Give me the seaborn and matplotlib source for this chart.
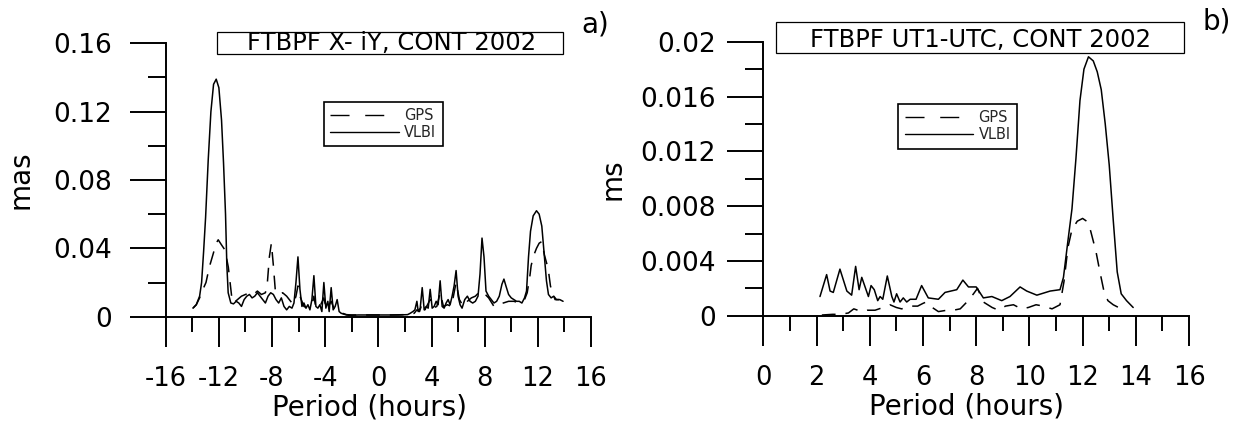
import matplotlib
matplotlib.use("Agg")
import matplotlib.pyplot as plt
import numpy as np
import pandas as pd
import seaborn as sns
from matplotlib.lines import Line2D
from matplotlib.patches import Rectangle
from matplotlib.ticker import FixedLocator, FixedFormatter

# ---------------------------------------------------------------- data
# Panel a: polar motion (X - iY) amplitude spectrum, mas
xy_vlbi_period = [-13.95, -13.7, -13.45, -13.3, -13.15, -13.0, -12.8, -12.6, -12.4, -12.2,
                  -12.0, -11.8, -11.65, -11.5, -11.4, -11.3, -11.1, -10.9, -10.7, -10.5,
                  -10.3, -10.1, -9.9, -9.7, -9.5, -9.3, -9.1, -8.9, -8.7, -8.5,
                  -8.3, -8.1, -7.9, -7.7, -7.5, -7.3, -7.1, -6.9, -6.7, -6.5,
                  -6.35, -6.2, -6.05, -5.9, -5.75, -5.6, -5.45, -5.3, -5.15, -5.0,
                  -4.85, -4.7, -4.55, -4.4, -4.25, -4.1, -3.95, -3.8, -3.7, -3.55,
                  -3.4, -3.25, -3.1, -2.95, -2.8, -2.6, -2.4, -2.2, -1.5, -0.5,
                  0.5, 1.5, 2.2, 2.4, 2.6, 2.75, 2.9, 3.0, 3.15, 3.3,
                  3.45, 3.6, 3.75, 3.9, 4.05, 4.2, 4.35, 4.5, 4.65, 4.8,
                  4.95, 5.1, 5.25, 5.4, 5.55, 5.7, 5.85, 6.0, 6.15, 6.3,
                  6.5, 6.7, 6.9, 7.1, 7.3, 7.5, 7.65, 7.8, 7.95, 8.1,
                  8.3, 8.5, 8.7, 8.9, 9.1, 9.3, 9.45, 9.6, 9.8, 10.0,
                  10.2, 10.4, 10.6, 10.8, 11.0, 11.15, 11.3, 11.45, 11.65, 11.9,
                  12.1, 12.3, 12.5, 12.65, 12.8, 13.0, 13.2, 13.4, 13.65, 13.9]
xy_vlbi_amp = [0.005, 0.007, 0.012, 0.020, 0.038, 0.058, 0.092, 0.120, 0.136, 0.139,
               0.134, 0.115, 0.090, 0.060, 0.030, 0.014, 0.008, 0.0075, 0.009, 0.008,
               0.006, 0.010, 0.012, 0.013, 0.011, 0.012, 0.014, 0.012, 0.010, 0.008,
               0.012, 0.014, 0.013, 0.010, 0.008, 0.011, 0.006, 0.004, 0.006, 0.005,
               0.008, 0.020, 0.035, 0.016, 0.006, 0.008, 0.005, 0.007, 0.004, 0.010,
               0.024, 0.006, 0.005, 0.007, 0.003, 0.020, 0.005, 0.009, 0.003, 0.017,
               0.004, 0.006, 0.010, 0.003, 0.002, 0.0015, 0.001, 0.0008, 0.001, 0.001,
               0.001, 0.001, 0.0012, 0.002, 0.003, 0.004, 0.009, 0.003, 0.005, 0.017,
               0.004, 0.006, 0.005, 0.016, 0.005, 0.006, 0.009, 0.007, 0.021, 0.006,
               0.005, 0.008, 0.010, 0.007, 0.012, 0.018, 0.027, 0.012, 0.007, 0.005,
               0.010, 0.012, 0.009, 0.008, 0.009, 0.012, 0.025, 0.046, 0.035, 0.015,
               0.012, 0.010, 0.008, 0.009, 0.012, 0.019, 0.022, 0.018, 0.013, 0.011,
               0.010, 0.009, 0.009, 0.008, 0.011, 0.015, 0.035, 0.050, 0.059, 0.062,
               0.060, 0.053, 0.035, 0.021, 0.013, 0.011, 0.012, 0.010, 0.010, 0.009]

xy_gps_period = [-13.95, -13.7, -13.45, -13.2, -12.97, -12.72, -12.42, -12.2, -12.05, -11.8,
                 -11.54, -11.29, -11.17, -11.04, -10.9, -10.6, -10.3, -10.0, -9.7, -9.4,
                 -9.1, -8.8, -8.5, -8.35, -8.2, -8.05, -7.9, -7.75, -7.5, -7.2,
                 -6.9, -6.6, -6.4, -6.2, -6.05, -5.9, -5.6, -5.3, -5.0, -4.85,
                 -4.7, -4.4, -4.1, -3.9, -3.55, -3.3, -3.0, -2.7, -2.4, -2.0,
                 -1.0, 0.0, 1.0, 2.0, 2.4, 2.7, 2.9, 3.1, 3.3, 3.5,
                 3.9, 4.1, 4.4, 4.65, 4.9, 5.2, 5.5, 5.85, 6.1, 6.4,
                 6.7, 7.0, 7.3, 7.55, 7.8, 8.05, 8.3, 8.7, 9.0, 9.4,
                 9.8, 10.2, 10.6, 11.0, 11.2, 11.39, 11.5, 11.7, 11.9, 12.1,
                 12.3, 12.5, 12.78, 12.95, 13.1, 13.3, 13.6]
xy_gps_amp = [0.005, 0.007, 0.011, 0.016, 0.020, 0.029, 0.037, 0.043, 0.045, 0.042,
              0.039, 0.029, 0.021, 0.012, 0.008, 0.010, 0.012, 0.013, 0.014, 0.013,
              0.015, 0.013, 0.014, 0.020, 0.035, 0.043, 0.030, 0.015, 0.013, 0.014,
              0.012, 0.009, 0.007, 0.012, 0.018, 0.012, 0.006, 0.005, 0.007, 0.012,
              0.005, 0.006, 0.011, 0.004, 0.009, 0.004, 0.003, 0.002, 0.0012, 0.001,
              0.001, 0.001, 0.001, 0.0012, 0.0015, 0.002, 0.004, 0.003, 0.008, 0.004,
              0.010, 0.005, 0.006, 0.014, 0.006, 0.007, 0.006, 0.020, 0.010, 0.006,
              0.009, 0.011, 0.012, 0.014, 0.015, 0.013, 0.011, 0.006, 0.007, 0.008,
              0.009, 0.009, 0.008, 0.010, 0.014, 0.023, 0.030, 0.036, 0.040, 0.043,
              0.044, 0.036, 0.028, 0.018, 0.014, 0.010, 0.010]

# Panel b: UT1-UTC amplitude spectrum, ms
ut_vlbi_period = [2.13, 2.38, 2.51, 2.63, 2.88, 3.14, 3.32, 3.47, 3.6, 3.7,
                  3.95, 4.05, 4.17, 4.3, 4.39, 4.49, 4.66, 4.83, 4.91, 5.01,
                  5.14, 5.26, 5.39, 5.52, 5.74, 5.95, 6.2, 6.58, 6.83, 7.27,
                  7.5, 7.71, 8.0, 8.27, 8.59, 8.96, 9.27, 9.65, 9.9, 10.28,
                  10.78, 11.15, 11.28, 11.45, 11.6, 11.75, 11.9, 12.05, 12.22, 12.4,
                  12.55, 12.7, 12.85, 13.0, 13.15, 13.3, 13.45, 13.65, 13.9]
ut_vlbi_amp = [0.0014, 0.0030, 0.0018, 0.0017, 0.0034, 0.0018, 0.0015, 0.0036, 0.0019, 0.0028,
               0.0014, 0.0022, 0.0019, 0.0011, 0.0014, 0.0012, 0.0029, 0.0014, 0.0010, 0.0016,
               0.0010, 0.0013, 0.0010, 0.0012, 0.0012, 0.0022, 0.0013, 0.0012, 0.0017, 0.0019,
               0.0026, 0.0021, 0.0021, 0.0013, 0.0014, 0.0011, 0.0014, 0.0021, 0.0018, 0.0015,
               0.0018, 0.0019, 0.0028, 0.0055, 0.0078, 0.0115, 0.0157, 0.0180, 0.0189, 0.0186,
               0.0178, 0.0165, 0.0140, 0.0110, 0.0070, 0.0032, 0.0016, 0.0011, 0.0006]

ut_gps_period = [2.2, 2.6, 2.9, 3.2, 3.4, 3.55, 3.7, 3.9, 4.2, 4.5,
                 4.76, 5.0, 5.2, 5.5, 5.8, 6.0, 6.12, 6.35, 6.58, 6.9,
                 7.14, 7.4, 7.65, 7.9, 8.05, 8.27, 8.6, 8.84, 9.1, 9.4,
                 9.7, 9.96, 10.25, 10.53, 10.85, 11.15, 11.3, 11.45, 11.6, 11.8,
                 12.0, 12.15, 12.3, 12.5, 12.65, 12.8, 12.95, 13.15, 13.35, 13.5]
ut_gps_amp = [0.00005, 0.0001, 0.0001, 0.0002, 0.0005, 0.0004, 0.0003, 0.0004, 0.0004, 0.0006,
              0.0008, 0.0006, 0.0005, 0.0007, 0.0007, 0.0009, 0.0010, 0.0006, 0.0003, 0.0004,
              0.0004, 0.0005, 0.0010, 0.0016, 0.0020, 0.0010, 0.0006, 0.0004, 0.0007, 0.0008,
              0.0005, 0.0006, 0.0008, 0.0007, 0.0005, 0.0008, 0.0025, 0.0050, 0.0063, 0.0069,
              0.0071, 0.0069, 0.0062, 0.0047, 0.0032, 0.0018, 0.0011, 0.0008, 0.0006, 0.0005]

# axis ticks and labels
xy_xticks = [-16, -12, -8, -4, 0, 4, 8, 12, 16]
xy_xtick_labels = ["-16", "-12", "-8", "-4", "0", "4", "8", "12", "16"]
xy_xminor = [-14, -10, -6, -2, 2, 6, 10, 14]
xy_yticks = [0, 0.04, 0.08, 0.12, 0.16]
xy_ytick_labels = ["0", "0.04", "0.08", "0.12", "0.16"]
xy_yminor = [0.02, 0.06, 0.10, 0.14]

ut_xticks = [0, 2, 4, 6, 8, 10, 12, 14, 16]
ut_xtick_labels = ["0", "2", "4", "6", "8", "10", "12", "14", "16"]
ut_xminor = [1, 3, 5, 7, 9, 11, 13, 15]
ut_yticks = [0, 0.004, 0.008, 0.012, 0.016, 0.02]
ut_ytick_labels = ["0", "0.004", "0.008", "0.012", "0.016", "0.02"]
ut_yminor = [0.002, 0.006, 0.010, 0.014, 0.018]

series_names = ["GPS", "VLBI"]

# ---------------------------------------------------------------- style
sns.set_theme(style="white")
plt.rcParams["font.family"] = ["DejaVu Sans"]
plt.rcParams["axes.unicode_minus"] = False

fig = plt.figure(figsize=(12.46, 4.24), dpi=100)
fig.patch.set_facecolor("white")
ax_a = fig.add_axes([0.1330, 0.2531, 0.3413, 0.6448])
ax_b = fig.add_axes([0.6126, 0.2554, 0.3417, 0.6462])

DATA_LW = 1.1
GPS_DASH = (9.0, 6.5)


def long_form(gps_x, gps_y, vlbi_x, vlbi_y):
    return pd.concat([
        pd.DataFrame({"period": gps_x, "amp": gps_y, "series": "GPS"}),
        pd.DataFrame({"period": vlbi_x, "amp": vlbi_y, "series": "VLBI"}),
    ], ignore_index=True)


def style_axes(ax, xlim, ylim, xt, xtl, xmin, yt, ytl, ymin, ylabel, ylab_x, ytick_pad):
    ax.set_xlim(*xlim)
    ax.set_ylim(*ylim)
    ax.set_facecolor("white")
    for s in ("top", "right"):
        ax.spines[s].set_visible(False)
    for s in ("left", "bottom"):
        ax.spines[s].set_color("black")
        ax.spines[s].set_linewidth(1.4)
    ax.xaxis.set_major_locator(FixedLocator(xt))
    ax.xaxis.set_major_formatter(FixedFormatter(xtl))
    ax.xaxis.set_minor_locator(FixedLocator(xmin))
    ax.yaxis.set_major_locator(FixedLocator(yt))
    ax.yaxis.set_major_formatter(FixedFormatter(ytl))
    ax.yaxis.set_minor_locator(FixedLocator(ymin))
    ax.tick_params(axis="x", which="major", direction="out", length=21.6, width=1.4,
                   pad=14, labelsize=18.5, colors="black", bottom=True)
    ax.tick_params(axis="x", which="minor", direction="out", length=10.8, width=1.4,
                   colors="black", bottom=True)
    ax.tick_params(axis="y", which="major", direction="out", length=25.9, width=1.4,
                   pad=ytick_pad, labelsize=19, colors="black", left=True)
    ax.tick_params(axis="y", which="minor", direction="out", length=13, width=1.4,
                   colors="black", left=True)
    ax.grid(False)
    ax.set_xlabel("Period (hours)", fontsize=20, color="black")
    ax.xaxis.label.set_va("baseline")
    ax.set_ylabel(ylabel, fontsize=20, color="black")
    ax.yaxis.label.set_va("center")
    ax.yaxis.set_label_coords(ylab_x, 0.5)


def boxed_title(ax, text, box, tx, ty):
    x0, x1, y0, y1 = box
    ax.add_patch(Rectangle((x0, y0), x1 - x0, y1 - y0, transform=ax.transAxes,
                           facecolor="white", edgecolor="black", linewidth=0.9,
                           clip_on=False, zorder=5))
    ax.text(tx, ty, text, transform=ax.transAxes, ha="center", va="baseline",
            fontsize=17.5, color="black", zorder=6)


def add_legend(ax, x0, ytop):
    handles = [Line2D([], [], color="black", lw=1.0, dashes=(13.7, 11.3)),
               Line2D([], [], color="black", lw=1.0)]
    leg = ax.legend(handles, series_names, loc="upper left", bbox_to_anchor=(x0, ytop),
                    borderaxespad=0, fontsize=10.5, handlelength=4.7, handletextpad=0.35,
                    borderpad=0.45, labelspacing=0.1, frameon=True, fancybox=False,
                    framealpha=1, edgecolor="black", facecolor="white")
    leg.get_frame().set_linewidth(1.2)


# ---------------------------------------------------------------- panel a
df_a = long_form(xy_gps_period, xy_gps_amp, xy_vlbi_period, xy_vlbi_amp)
sns.lineplot(data=df_a, x="period", y="amp", style="series",
             dashes={"GPS": GPS_DASH, "VLBI": ""}, color="black", lw=DATA_LW,
             estimator=None, sort=False, legend=False, ax=ax_a)
style_axes(ax_a, (-16, 16), (0, 0.16), xy_xticks, xy_xtick_labels, xy_xminor,
           xy_yticks, xy_ytick_labels, xy_yminor, "mas", -0.3426, 13)
ax_a.xaxis.set_label_coords(0.48, -0.362)
boxed_title(ax_a, "FTBPF X- iY, CONT 2002", (0.1213, 0.9335, 0.9609, 1.0424), 0.532, 0.9755)
ax_a.text(1.0094, 1.067, "a)", transform=ax_a.transAxes, ha="center", va="center",
          fontsize=20, color="black")
add_legend(ax_a, 0.372, 0.786)

# ---------------------------------------------------------------- panel b
df_b = long_form(ut_gps_period, ut_gps_amp, ut_vlbi_period, ut_vlbi_amp)
sns.lineplot(data=df_b, x="period", y="amp", style="series",
             dashes={"GPS": GPS_DASH, "VLBI": ""}, color="black", lw=DATA_LW,
             estimator=None, sort=False, legend=False, ax=ax_b)
style_axes(ax_b, (0, 16), (0, 0.02), ut_xticks, ut_xtick_labels, ut_xminor,
           ut_yticks, ut_ytick_labels, ut_yminor, "ms", -0.355, 8)
ax_b.xaxis.set_label_coords(0.478, -0.362)
boxed_title(ax_b, "FTBPF UT1-UTC, CONT 2002", (0.0291, 0.989, 0.9577, 1.073), 0.5107, 0.9818)
ax_b.text(1.065, 1.073, "b)", transform=ax_b.transAxes, ha="center", va="center",
          fontsize=20, color="black")
add_legend(ax_b, 0.317, 0.773)

fig.savefig("out.png", dpi=100, facecolor="white")
